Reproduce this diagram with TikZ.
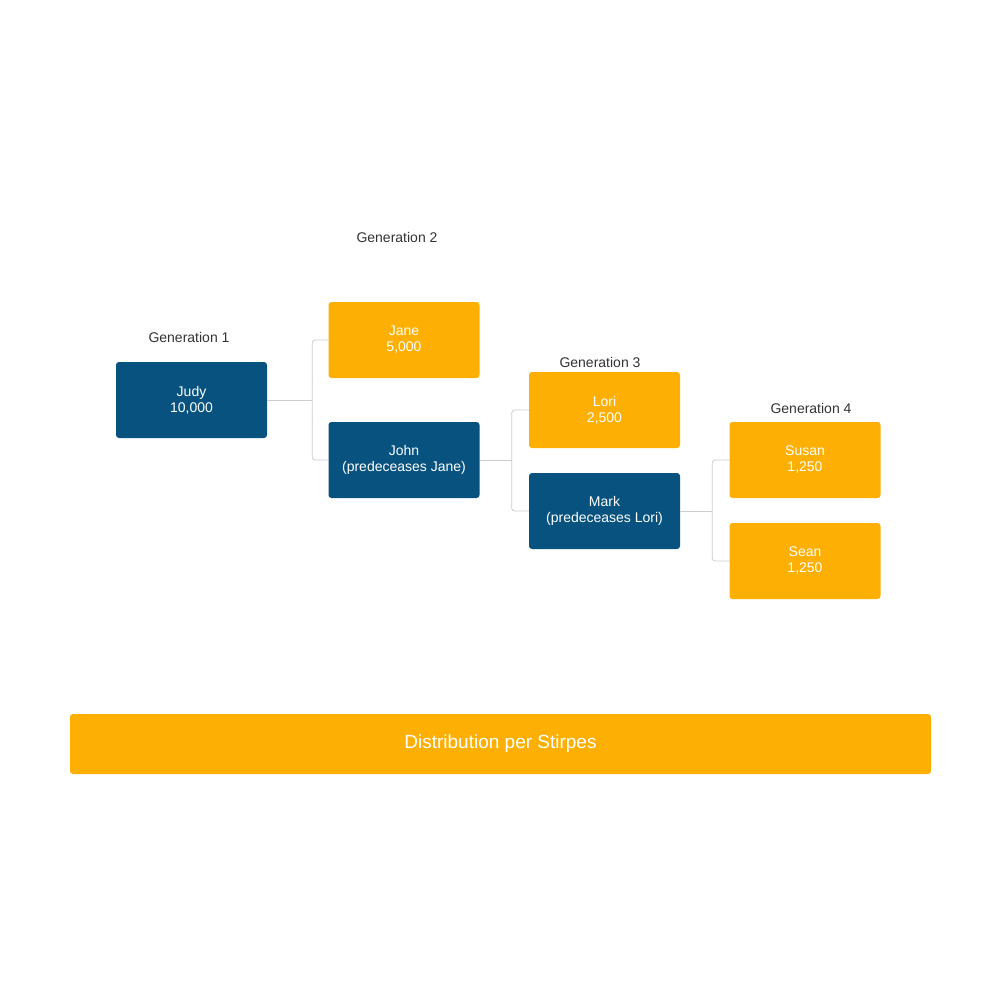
\documentclass[tikz,border=0pt]{standalone}
\usepackage{fontspec}
\setmainfont{Liberation Sans}
\usepackage{tikz}
\usetikzlibrary{calc}

\definecolor{heirorange}{HTML}{FDB003}
\definecolor{deadblue}{HTML}{08527F}
\definecolor{linegray}{HTML}{CCCCCC}
\definecolor{labelgray}{HTML}{333333}

\begin{document}
\begin{tikzpicture}[
            x=1pt, y=-1pt,
            heir-node/.style={rectangle,rounded corners=3pt,text=white,fill=heirorange,
                minimum width=151pt,minimum height=76pt,align=center,
                font=\fontsize{14}{16}\selectfont},
            pre-node/.style={heir-node,fill=deadblue},
            gen-label/.style={text=labelgray,font=\fontsize{14}{16}\selectfont},
            conn-line/.style={draw=linegray,line width=0.8pt,rounded corners=3pt},
        ]
            \useasboundingbox[fill=white] (0,0) rectangle (1000,1000);

            \node[gen-label] (g1) at (189, 337) {Generation 1};
            \node[gen-label] (g2) at (397, 237) {Generation 2};
            \node[gen-label] (g3) at (600, 362) {Generation 3};
            \node[gen-label] (g4) at (811, 408) {Generation 4};

            \node[pre-node] (judy) at (191.5, 400) {Judy\\10,000};

            \node[heir-node] (jane) at (404, 340) {Jane\\5,000};
            \node[pre-node] (john) at (404, 460) {John\\(predeceases Jane)};

            \node[heir-node] (lori) at (604.5, 410) {Lori\\2,500};
            \node[pre-node] (mark) at (604.5, 511) {Mark\\(predeceases Lori)};

            \node[heir-node] (susan) at (805, 460) {Susan\\1,250};
            \node[heir-node] (sean) at (805, 561) {Sean\\1,250};

            \node[heir-node,minimum width=861pt,minimum height=60pt,
                font=\fontsize{19}{20}\selectfont] (title) at (500.5, 744) {Distribution per Stirpes};

            \draw[conn-line] (judy.east) -- ++(45,0) coordinate (j1);
            \draw[conn-line] (j1) |- (jane.west);
            \draw[conn-line] (j1) |- (john.west);
            \draw[conn-line] (john.east) -- ++(32,0) coordinate (j2);
            \draw[conn-line] (j2) |- (lori.west);
            \draw[conn-line] (j2) |- (mark.west);
            \draw[conn-line] (mark.east) -- ++(32,0) coordinate (j3);
            \draw[conn-line] (j3) |- (susan.west);
            \draw[conn-line] (j3) |- (sean.west);
        \end{tikzpicture}
\end{document}
